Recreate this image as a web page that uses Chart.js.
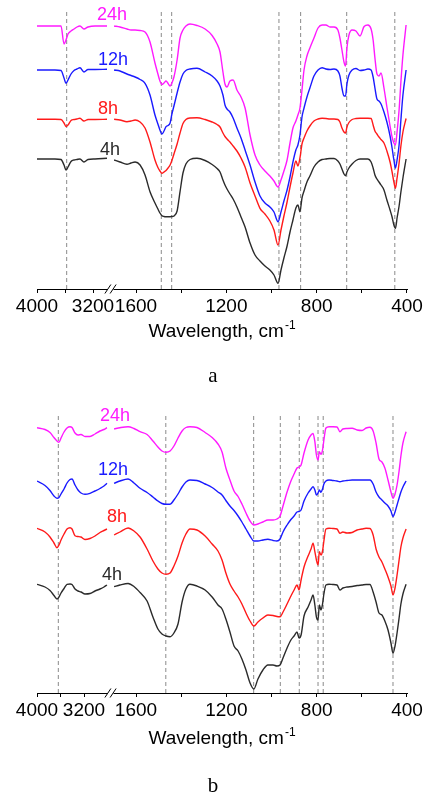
<!DOCTYPE html>
<html>
<head>
<meta charset="utf-8">
<title>IR spectra, panels a and b</title>
<script src="https://cdn.jsdelivr.net/npm/chart.js@4.4.1/dist/chart.umd.min.js"></script>
<style>
  html, body { margin: 0; padding: 0; background: #fff; }
  #wrap { position: relative; width: 427px; height: 794px; overflow: hidden; }
  canvas { position: absolute; left: 0; }
  #chartA { top: 0; }
  #chartB { top: 404px; }
</style>
</head>
<body>
<div id="wrap">
  <canvas id="chartA" width="427" height="404"></canvas>
  <canvas id="chartB" width="427" height="390"></canvas>
</div>
<script>
// ==========================================
// 1. DATA (wavenumbers in cm-1, offset intensity)
// ==========================================
const seriesNames = ['24h', '12h', '8h', '4h'];
const seriesColors = ['#ff1aff', '#1a1aff', '#ff1a1a', '#2b2b2b'];

// x axis ticks (both panels)
const tickWaves = [4000, 3600, 3200, 1600, 1400, 1200, 1000, 800, 600, 400];
const tickLabels = ['4000', '', '3200', '1600', '', '1200', '', '800', '', '400'];

// ---- panel a ----
const wavesA = [
  4000, 3743, 3657, 3614, 3586, 3557, 3514, 3471, 3429, 3386, 3329, 3271, 3171, 3000,
  1697, 1671, 1640, 1622, 1604, 1582, 1560, 1538, 1516, 1503,
  1494, 1485, 1476, 1467, 1458, 1449, 1441, 1432, 1418, 1405,
  1392, 1379, 1361, 1330, 1294, 1263, 1241, 1228, 1215, 1206,
  1197, 1184, 1170, 1153, 1135, 1117, 1095, 1073, 1051, 1029,
  1007, 989, 971, 958, 945, 931, 918, 905, 892, 883,
  874, 865, 856, 843, 830, 812, 794, 776, 759, 741,
  723, 706, 697, 688, 679, 672, 666, 657, 643, 626,
  608, 590, 573, 559, 550, 542, 533, 524, 515, 502,
  489, 475, 466, 458, 451, 444, 435, 427, 418, 404
];
const a24h = [
  263, 263, 263, 245, 249, 255, 258, 260, 262, 263, 260, 262, 263, 263,
  263, 262, 260, 259, 259, 258.5, 257, 247, 226, 215,
  208, 204.5, 206, 208, 205.5, 203, 206, 212, 229, 251,
  259, 263, 265, 263.5, 260, 253.5, 245, 237, 217, 205,
  202, 208, 209, 199, 192, 181, 154, 134, 124, 118,
  113, 108, 102, 109, 118, 129, 146, 161, 168, 174,
  181, 199, 219, 233, 241, 251, 261, 264, 264, 262,
  262, 259, 251, 239, 227, 223, 241, 254, 259, 258,
  253, 262.5, 264, 260, 249, 231, 215, 213, 216, 201,
  182, 163, 152, 146, 144, 157, 179, 207, 234, 264
];
const a12h = [
  219, 219, 218.5, 211, 205.7, 209, 215, 218.5, 220, 221.3, 217, 219.5, 219.5, 219.7,
  219, 218, 215, 213.5, 212, 209.5, 205.7, 194, 174, 165,
  159, 155, 158, 162.3, 163.5, 166, 175, 183, 196, 207,
  215, 218.5, 220, 220.7, 217, 213, 208, 203, 194, 184,
  180, 177, 171, 161, 151, 139, 124, 107, 93, 86,
  82, 77, 67.3, 77, 88, 99, 112, 127, 139, 144,
  154, 172, 181, 192, 201, 213, 219, 221.3, 220, 219.5,
  220, 218, 213, 201, 193, 193, 205, 214, 219, 220.5,
  218.5, 219, 220, 219, 212, 201, 190, 188, 185, 177,
  167, 153, 141, 129, 121, 129, 144, 169, 194, 219
];
const a8h = [
  169.7, 169.7, 169.5, 166, 162.5, 164, 168.5, 169.5, 170, 170.7, 168, 169.5, 169.5, 169.7,
  169.7, 169, 167.3, 168, 169, 167, 161, 147, 129, 121.5,
  118, 115.7, 117, 118.5, 121, 124, 128.5, 135, 145, 156,
  165.5, 169.5, 171, 171.3, 169.5, 167, 164.5, 162, 156, 152.5,
  150, 147, 143, 138, 131, 122, 106, 93, 80.7, 75,
  68, 59, 44, 59, 73, 87, 102, 116, 128, 123,
  131, 145, 151, 158, 163, 168, 170, 170.7, 170.5, 170,
  170, 169.5, 167, 161, 157, 156, 162, 166.5, 169.5, 170.5,
  170.7, 170.7, 170.7, 170.5, 164, 158, 155, 152, 149.5, 146,
  138, 127, 117, 107, 100.7, 111, 126, 143, 157, 170.5
];
const a4h = [
  130, 130, 129.5, 124, 119, 122, 127.5, 129, 129.5, 130, 127, 129.5, 130, 130.7,
  129, 127, 124.7, 126, 127, 124, 114, 97.3, 86, 80,
  76, 73.3, 72.5, 72.3, 72.3, 72.3, 72.5, 73, 78, 97.3,
  116, 125, 129.5, 130.7, 128.5, 124.5, 120.5, 117, 109, 104,
  100, 95, 90, 82, 72, 62, 46, 34, 28, 23,
  19, 14, 5.7, 19, 31, 43, 57, 69, 81, 84,
  77.3, 91, 98, 107, 113, 122, 127, 129.5, 130, 130.5,
  130.5, 128, 125, 120, 115, 113.3, 117, 121, 125, 128.5,
  130, 130, 130, 127, 121, 114, 110, 107, 104, 99,
  89, 79, 72, 64, 60.7, 71, 83, 97, 111, 130
];
const dashesA = [3576, 1488, 1442, 967, 871, 667, 454];

// ---- panel b ----
const wavesB = [
  4000, 3864, 3779, 3711, 3660, 3626, 3591, 3540, 3489, 3438,
  3404, 3353, 3302, 3251, 3183, 3098, 3013, 2928, 2860, 2809,
  1697, 1671, 1635, 1609, 1582, 1551, 1525, 1503, 1485, 1467,
  1449, 1432, 1414, 1396, 1379, 1361, 1330, 1294, 1263, 1237,
  1219, 1202, 1184, 1166, 1148, 1131, 1113, 1095, 1078, 1060,
  1038, 1016, 993, 976, 962, 949, 931, 914, 900, 887,
  878, 869, 856, 838, 825, 816, 808, 801, 794, 788,
  781, 774, 768, 759, 745, 728, 710, 697, 684, 666,
  643, 621, 599, 581, 564, 550, 537, 524, 511, 498,
  484, 471, 462, 453, 444, 435, 427, 418, 404
];
const b24h = [
  265.3, 263.5, 260.5, 255.5, 252, 250.7, 255, 261, 265, 266.2,
  265.5, 260, 258, 258.5, 256.5, 256.5, 259, 262, 263.5, 265.3,
  264, 265.3, 266.3, 264.5, 261.3, 258.5, 252, 246, 242, 240.7,
  242, 247, 255, 262, 265.5, 266.3, 265.5, 260.5, 255.5, 249,
  241, 225, 213, 202, 196.5, 189, 180, 172, 168, 169,
  171, 173, 173, 174, 177, 187, 201, 212, 219, 225,
  226, 228, 240, 253, 258, 259.5, 251.3, 238, 233, 241.3,
  238.7, 243, 253, 265, 266.3, 266.3, 266, 261.3, 264, 264.5,
  264.7, 263, 262.5, 265, 265.7, 262, 250, 234, 231, 225,
  213, 201, 194.7, 199, 208, 222, 237, 250, 261.3
];
const b12h = [
  212, 207.5, 202.5, 197, 194.7, 195.5, 199, 204, 210, 213.5,
  214, 208, 203, 200, 198.7, 199.7, 202, 204.5, 207, 209.7,
  209.7, 212, 214, 210, 204.7, 200.5, 196, 192, 189.5, 188.7,
  188.7, 193, 199, 206, 211, 213, 212.5, 209, 205.5, 201,
  198, 192.5, 187, 182.5, 177, 171, 164, 157, 152, 152,
  153, 153.7, 152.5, 152, 154, 161, 168, 173.5, 177, 181,
  181.5, 183, 192, 200, 204, 206.3, 203, 198, 200, 203,
  200.7, 204, 209, 212, 213, 212.5, 212, 211.3, 212, 212.5,
  213, 213, 213, 213, 213, 209, 201, 196, 193, 190,
  187, 182, 176.3, 181, 188, 195, 201, 206, 212
];
const b8h = [
  164.7, 161, 156, 150, 145.3, 148, 153, 159, 164, 165.3,
  164, 157.3, 156.5, 156, 153.5, 154.5, 157, 160.5, 162.5, 164,
  158, 161, 165, 162, 156, 144, 132, 124, 120, 118.7,
  120, 127, 137, 150, 159, 164, 163, 157, 149, 142,
  133, 120, 109, 102, 96, 89, 80, 72, 67, 71,
  75, 78, 77.5, 76.5, 76.3, 81, 89, 97, 103, 108,
  103, 113, 126, 137, 144, 149.7, 141.3, 133, 128, 141.3,
  138, 142, 152, 164, 164.7, 164.5, 164, 159.7, 161, 160,
  160.5, 163, 164, 164.7, 164.5, 158, 144, 136, 131, 124,
  116, 107, 98, 105, 118, 133, 146, 155, 164
];
const b4h = [
  108.7, 106, 102.5, 97.5, 94, 96, 100, 104.5, 108.7, 109,
  108.5, 104, 102, 101, 99, 99.5, 102, 104, 106, 108,
  106.3, 108, 109.5, 106.5, 100.5, 92, 76, 64, 59, 57,
  56.3, 60, 69, 91, 104, 108.7, 107, 103, 96, 88,
  84, 74, 61, 47, 42, 34, 23, 10, 4, 14,
  23, 28, 28, 27, 28, 35, 45, 53, 57, 61,
  55, 58, 77, 86, 93, 98, 88, 76, 73, 88,
  83, 89, 99, 108, 108.7, 108.5, 108, 103, 105, 106,
  106.5, 107.5, 108, 108.5, 108.5, 101, 91, 80, 78, 72,
  63, 50, 39.7, 47, 60, 75, 89, 99, 108.7
];
const dashesB = [3637, 1468, 1079, 961, 877, 794, 771, 462];

// ==========================================
// 2. BROKEN AXIS MAPPING (4000-~2800 | 1700-400)
// ==========================================
const BREAK_W = 2200;     // anything above this sits on the left piece
const RIGHT_OFFSET = 99;  // axis units where 1600 sits
const RIGHT_SCALE = 0.22583;

const toUA = (w) => w > BREAK_W ? (4000 - w) * 0.07 : RIGHT_OFFSET + (1600 - w) * RIGHT_SCALE;
const toUB = (w) => w > BREAK_W ? (4000 - w) * 0.05875 : RIGHT_OFFSET + (1600 - w) * RIGHT_SCALE;

const FONT = "'Liberation Sans', Arial, sans-serif";
const DASH_TOP = 278;

// Turn wavenumber/value pairs into points, with a null where the axis is broken
function buildPoints(waves, values, toU) {
    const pts = [];
    for (let i = 0; i < waves.length; i++) {
        if (i > 0 && waves[i - 1] > BREAK_W && waves[i] < BREAK_W) {
            pts.push({ x: (toU(waves[i - 1]) + toU(waves[i])) / 2, y: null });
        }
        pts.push({ x: toU(waves[i]), y: values[i] });
    }
    return pts;
}

// ==========================================
// 3. DECORATION PLUGIN (axis break, labels, title, caption)
// ==========================================
const panelDecor = {
    id: 'panelDecor',
    afterDraw(chart, args, opts) {
        const ctx = chart.ctx;
        const xs = chart.scales.x;
        const axisY = chart.chartArea.bottom;
        const bx = xs.getPixelForValue(opts.breakU);

        ctx.save();

        // axis break "//"
        ctx.fillStyle = '#fff';
        ctx.fillRect(bx - 3, axisY - 2, 6, 4);
        ctx.strokeStyle = '#000';
        ctx.lineWidth = 1;
        [-2.6, 2.6].forEach(dx => {
            ctx.beginPath();
            ctx.moveTo(bx + dx - 3, axisY + 4.5);
            ctx.lineTo(bx + dx + 3, axisY - 4.5);
            ctx.stroke();
        });

        // series labels
        ctx.font = '18px ' + FONT;
        ctx.textAlign = 'center';
        ctx.textBaseline = 'middle';
        opts.labels.forEach((pos, i) => {
            ctx.fillStyle = seriesColors[i];
            ctx.fillText(seriesNames[i], pos[0], pos[1]);
        });

        // axis title with superscript
        ctx.fillStyle = '#000';
        ctx.textAlign = 'left';
        ctx.textBaseline = 'alphabetic';
        ctx.font = '19px ' + FONT;
        const main = 'Wavelength, cm';
        const w1 = ctx.measureText(main).width;
        ctx.font = '12px ' + FONT;
        const w2 = ctx.measureText('-1').width;
        const x0 = opts.titleX - (w1 + 1 + w2) / 2;
        ctx.font = '19px ' + FONT;
        ctx.fillText(main, x0, opts.titleY);
        ctx.font = '12px ' + FONT;
        ctx.fillText('-1', x0 + w1 + 1, opts.titleY - 8);

        // panel caption
        ctx.font = "21px 'Liberation Serif', 'Times New Roman', serif";
        ctx.textAlign = 'center';
        ctx.fillText(opts.caption, 213, opts.captionY);

        ctx.restore();
    }
};

// ==========================================
// 4. CHART FACTORY
// ==========================================
function makePanel(canvasId, waves, seriesValues, dashes, toU, decor, padBottom) {
    const datasets = seriesValues.map((vals, i) => ({
        label: seriesNames[i],
        data: buildPoints(waves, vals, toU),
        borderColor: seriesColors[i],
        borderWidth: 1.4,
        pointRadius: 0,
        fill: false,
        spanGaps: false,
        cubicInterpolationMode: 'monotone'
    }));

    // dashed marker lines go last so they are drawn underneath
    dashes.forEach(w => {
        datasets.push({
            label: 'band ' + w,
            data: [{ x: toU(w), y: 0 }, { x: toU(w), y: DASH_TOP }],
            borderColor: '#8a8a8a',
            borderWidth: 1,
            borderDash: [4, 3],
            pointRadius: 0,
            fill: false
        });
    });

    return new Chart(document.getElementById(canvasId), {
        type: 'line',
        data: { datasets },
        options: {
            responsive: false,
            animation: false,
            devicePixelRatio: 1,
            parsing: true,
            layout: { padding: { left: 37, right: 20, top: 9, bottom: padBottom } },
            plugins: {
                legend: { display: false },
                tooltip: { enabled: false },
                panelDecor: decor
            },
            scales: {
                x: {
                    type: 'linear',
                    min: 0,
                    max: 370,
                    afterBuildTicks: (scale) => {
                        scale.ticks = tickWaves.map(w => ({ value: toU(w) }));
                    },
                    afterFit: (scale) => { scale.height = 40; },
                    grid: { display: true, drawOnChartArea: false, drawTicks: true, tickLength: 4, color: '#000' },
                    border: { display: true, color: '#000', width: 1 },
                    ticks: {
                        autoSkip: false,
                        maxRotation: 0,
                        minRotation: 0,
                        padding: 2,
                        color: '#000',
                        font: { family: FONT, size: 19 },
                        callback: (value, index) => tickLabels[index]
                    }
                },
                y: { display: false, min: 0, max: 280 }
            }
        },
        plugins: [panelDecor]
    });
}

document.addEventListener('DOMContentLoaded', () => {
    makePanel('chartA', wavesA, [a24h, a12h, a8h, a4h], dashesA, toUA, {
        breakU: 73.5,
        labels: [[112, 15], [113, 60], [108, 109], [110, 150]],
        titleX: 222, titleY: 337,
        caption: 'a', captionY: 382
    }, 75);

    makePanel('chartB', wavesB, [b24h, b12h, b8h, b4h], dashesB, toUB, {
        breakU: 73.5,
        labels: [[115, 12.5], [113, 66], [117, 113.5], [112, 171]],
        titleX: 222, titleY: 340,
        caption: 'b', captionY: 387.5
    }, 61);
});
</script>
</body>
</html>
